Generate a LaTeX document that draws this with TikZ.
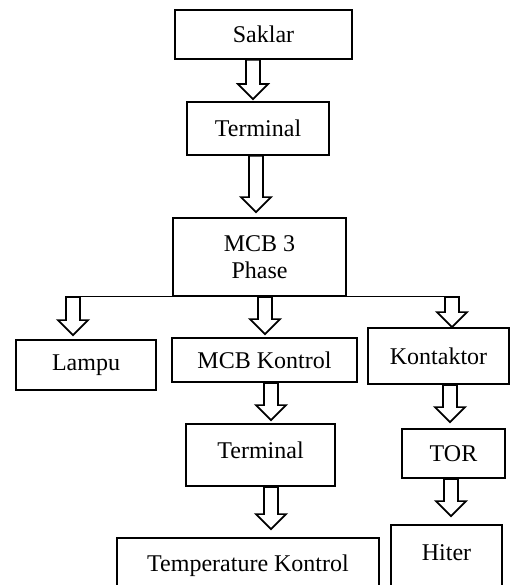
\documentclass[tikz,border=0pt]{standalone}
\usepackage{fontspec}
\setmainfont{Liberation Serif}
\usetikzlibrary{calc}

% hollow block arrow: [gap]{x}{upper node}{lower node}
\newcommand{\blockarrow}[4][3]{%
  \draw[blockarrow] let \p1=(#3.south), \p2=(#4.north) in
    (#2pt-7pt,\y1) -- (#2pt-7pt,\y2+#1pt+15pt) -- (#2pt-15pt,\y2+#1pt+15pt)
    -- (#2pt,\y2+#1pt) -- (#2pt+15pt,\y2+#1pt+15pt) -- (#2pt+7pt,\y2+#1pt+15pt)
    -- (#2pt+7pt,\y1) -- cycle;}

\begin{document}
\begin{tikzpicture}[
    x=1pt, y=-1pt,
    font=\fontsize{24}{27}\selectfont,
    blockbox/.style={
        draw=black,
        line width=1.8pt,
        inner sep=0pt,
        align=center
    },
    blockarrow/.style={
        draw=black,
        fill=white,
        line width=1.7pt,
        line join=miter
    },
    busline/.style={draw=black, line width=1pt},
    textup/.style={text height=16pt, text depth=#1}
]
\useasboundingbox (0,0) rectangle (510,585);
% ============================================================
% MAIN COLUMN
% ============================================================
\node[blockbox, minimum width=177pt, minimum height=49pt] (saklar)
    at (263.5,34.5) {Saklar};
\node[blockbox, minimum width=142pt, minimum height=53pt] (terminal)
    at (258,128.5) {Terminal};
\node[blockbox, minimum width=173pt, minimum height=78pt] (mcb)
    at (259.5,257) {MCB 3\\Phase};
% ============================================================
% BRANCH ROW
% ============================================================
\node[blockbox, minimum width=140pt, minimum height=50pt] (lampu)
    at (86,365) {Lampu};
\node[blockbox, minimum width=185pt, minimum height=44pt] (mcbkontrol)
    at (264.5,360) {MCB Kontrol};
\node[blockbox, minimum width=141pt, minimum height=56pt] (kontaktor)
    at (438.5,356) {Kontaktor};
% control side
\node[blockbox, textup=10pt, minimum width=149pt, minimum height=62pt] (terminalkontrol)
    at (260.5,455) {Terminal};
\node[blockbox, textup=20pt, minimum width=262pt, minimum height=70pt] (tempkontrol)
    at (248,573) {Temperature Kontrol};
% power side
\node[blockbox, minimum width=103pt, minimum height=49pt] (tor)
    at (453.5,453.5) {TOR};
\node[blockbox, textup=16pt, minimum width=111pt, minimum height=70pt] (hiter)
    at (446.5,560) {Hiter};
% ============================================================
% CONNECTORS
% ============================================================
\coordinate (busL) at (66,0);
\coordinate (busR) at (459,0);
\draw[busline] (mcb.south -| busL) -- (mcb.south -| busR);

\blockarrow[2]{253}{saklar}{terminal}
\blockarrow[5]{256}{terminal}{mcb}
\blockarrow[4]{73}{mcb}{lampu}
\blockarrow[3]{265}{mcb}{mcbkontrol}
\blockarrow[0]{452}{mcb}{kontaktor}
\blockarrow[3]{271}{mcbkontrol}{terminalkontrol}
\blockarrow[8]{271}{terminalkontrol}{tempkontrol}
\blockarrow[6]{450}{kontaktor}{tor}
\blockarrow[8]{451}{tor}{hiter}
\end{tikzpicture}
\end{document}
